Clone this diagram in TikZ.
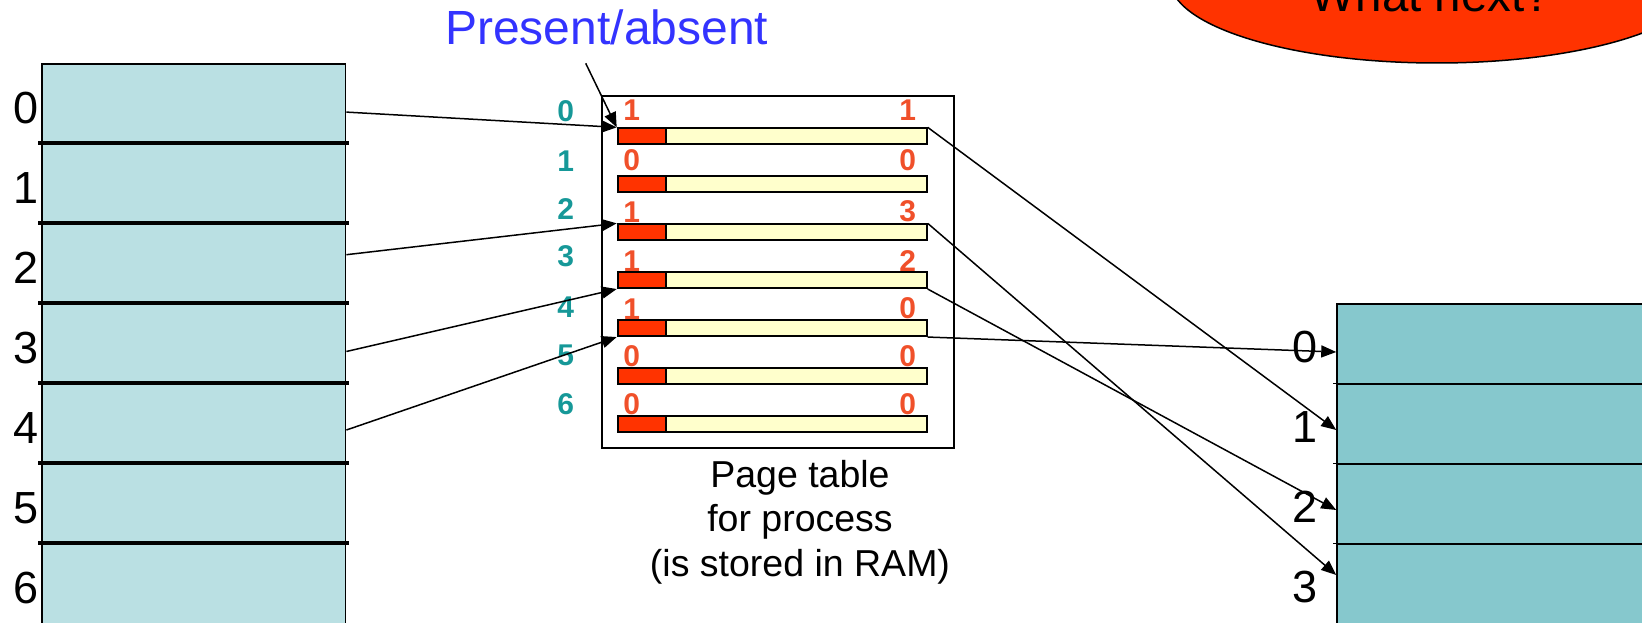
\documentclass[tikz,border=0pt]{standalone}
\usepackage{fontspec}
\setmainfont{Liberation Sans}
\usetikzlibrary{positioning,arrows.meta,shapes.geometric,calc}
\definecolor{vpageblue}{RGB}{186,224,227}
\definecolor{framecyan}{RGB}{134,200,205}
\definecolor{entryyellow}{RGB}{255,255,204}
\definecolor{bitred}{RGB}{255,51,0}
\definecolor{digitred}{RGB}{240,80,42}
\definecolor{indexteal}{RGB}{22,152,152}
\definecolor{noteblue}{RGB}{51,51,255}

\begin{document}
\begin{tikzpicture}[x=1pt, y=-1pt,
  vpage/.style={draw, line width=1.5pt, fill=vpageblue, minimum width=303.7pt, minimum height=80pt, inner sep=0pt},
  frame/.style={draw, line width=1.5pt, fill=framecyan, minimum width=320pt, minimum height=80pt, inner sep=0pt},
  entry/.style={draw, line width=2pt, fill=entryyellow, minimum width=309pt, minimum height=15.7pt, inner sep=0pt, path picture={
     \fill[bitred] (path picture bounding box.south west) rectangle ([xshift=48.3pt]path picture bounding box.north west);
     \draw[line width=2pt] ([xshift=48.3pt]path picture bounding box.south west) -- ([xshift=48.3pt]path picture bounding box.north west);}},
  bigdigit/.style={inner sep=0pt, font=\fontsize{45}{54}\selectfont},
  bitval/.style={inner sep=0pt, anchor=south, text=digitred, font=\bfseries\fontsize{30}{36}\selectfont},
  idx/.style={inner sep=0pt, text=indexteal, font=\bfseries\fontsize{30}{36}\selectfont},
  divider/.style={line width=4pt},
  arrow/.style={-{Triangle[length=15pt, width=12pt]}, line width=1.5pt}
]
\useasboundingbox (0,0) rectangle (1642,623);
\clip (0,0) rectangle (1642,623);

% virtual pages of the process
\foreach \i in {0,...,6}
  \node[vpage] (l\i) at (193.8, 103.9+80*\i) {};
\foreach \i in {1,...,6}
  \draw[divider] ([xshift=-3pt]l\i.north west) -- ([xshift=3pt]l\i.north east);
\foreach \i in {0,...,6}
  \node[bigdigit, left=2pt of l\i.west, yshift=-4pt] (ln\i) {\i};

% physical frames
\foreach \i in {0,...,3}
  \node[frame] (r\i) at (1497, 344+80*\i) {};
\foreach \i in {1,...,3}
  \draw[line width=1.5pt] ([xshift=-3pt]r\i.north west) -- (r\i.north east);
\foreach \i in {0,...,3}
  \node[bigdigit, left=19pt of r\i.west, yshift=-3pt] (rn\i) {\i};

% page table
\node[draw, line width=2pt, minimum width=352.3pt, minimum height=352pt] (ptab) at (777.9, 272) {};
\foreach \i in {0,...,6}
  \node[entry] (b\i) at (772.2, 136.2+48*\i) {};
\foreach \i/\pbit/\fnum/\up/\ty in {0/1/1/6.7/16.6, 1/0/0/4/14.6, 2/1/3/1/14.3, 3/1/2/0/15.6, 4/1/0/0/12.3, 5/0/0/0/11.6, 6/0/0/0/11.3} {
  \node[idx] (ix\i) at ([xshift=-51pt, yshift=\ty pt]b\i.north west) {\i};
  \node[bitval] (pv\i) at ([xshift=15pt, yshift=\up pt]b\i.north west) {\pbit};
  \node[bitval] (fn\i) at ([xshift=-20pt, yshift=\up pt]b\i.north east) {\fnum};
}
\node[align=center, inner sep=0pt, font=\fontsize{37.5}{44.5}\selectfont] (cap) at (800, 522) {Page table\\for process\\(is stored in RAM)};

% notes
\node[anchor=base, text=noteblue, inner sep=0pt, font=\fontsize{48}{57}\selectfont] (pa) at (606.7, 45) {Present/absent};
\coordinate (patail) at (585.7, 63.3);
\node[ellipse, draw, line width=1.5pt, fill=bitred, minimum width=534pt, minimum height=166pt] (bubble) at (1437,-20) {};
\node[anchor=base, inner sep=0pt, font=\fontsize{47.5}{57}\selectfont] (bubbletext) at (1431, 11.7) {What next?};

% mappings
\draw[arrow] (patail) -- (b0.north west);
\draw[arrow] ([yshift=-8.2pt]l0.east) -- (b0.north west);
\draw[arrow] ([yshift=9.2pt]l2.east) -- (b2.north west);
\draw[arrow] ([yshift=-7.6pt]l3.east) -- (b3.south west);
\draw[arrow] ([yshift=-6.1pt]l4.east) -- (b4.south west);
\draw[arrow] (b0.north east) -- ([yshift=-6pt]r1.west);
\draw[arrow] (b2.north east) -- ([yshift=9pt]r3.west);
\draw[arrow] (b3.south east) -- ([yshift=-6pt]r2.west);
\draw[arrow] (b4.south east) -- ([yshift=-8pt]r0.west);
\end{tikzpicture}
\end{document}
